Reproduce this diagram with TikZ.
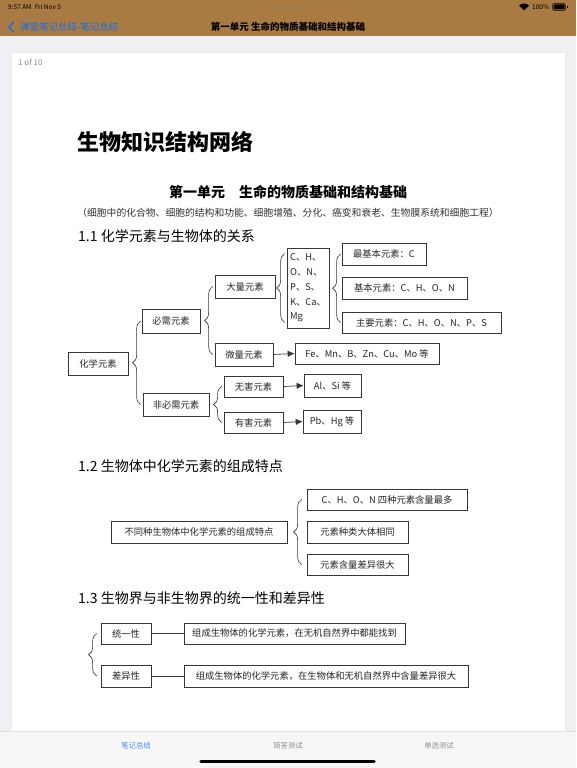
\documentclass[tikz,border=0pt]{standalone}
\usepackage{fontspec}
\setmainfont{Noto Sans CJK SC}
\usetikzlibrary{arrows.meta,decorations.pathreplacing}

\definecolor{zongse}{RGB}{169,122,66}
\definecolor{pingguolan}{RGB}{20,110,235}
\definecolor{beijinghui}{RGB}{239,239,244}
\definecolor{biaoqianhui}{RGB}{247,247,247}
\definecolor{zihui}{RGB}{142,142,147}
\definecolor{xianhei}{RGB}{55,55,55}

\newcommand{\zihao}[1]{\fontsize{#1}{#1}\selectfont}

\begin{document}
\begin{tikzpicture}[x=1pt,y=-1pt,
  kuang/.style={draw=xianhei, line width=0.7pt, inner sep=0pt, font=\zihao{9.3}, text=black!85},
  jiantou/.style={draw=xianhei, line width=0.7pt, -{Latex[length=7pt,width=6.5pt]}},
  lianxian/.style={draw=xianhei, line width=0.7pt},
  kuohao/.style={draw=xianhei, line width=0.6pt, decorate, decoration={brace, amplitude=8pt}},
  biaoti/.style={anchor=west, font=\zihao{14}, inner sep=0pt},
  tabzi/.style={font=\zihao{7.3}, inner sep=0pt}]

\useasboundingbox (0,0) rectangle (576,768);

% screen
\fill[beijinghui] (0,0) rectangle (576,768);
\fill[zongse] (0,0) rectangle (576,36);

\node[anchor=west, inner sep=0pt, font=\zihao{6.5}] (shijian) at (8,7) {9:57 AM\enspace Fri Nov 5};
\foreach \dx in {-5,0,5}
  \fill[black!45] (288+\dx,7) circle (1.1);
\node[anchor=west, inner sep=0pt, font=\zihao{6.5}] (dianliang) at (532,7) {100\%};
\fill[black] (524,10.5) -- ++(-135:7) arc[start angle=-135, end angle=-45, radius=7] -- cycle;
\draw[black, line width=0.5pt, rounded corners=1.5pt] (552.5,3.5) rectangle (565.5,10.5);
\fill[black, rounded corners=1pt] (553.5,4.5) rectangle (564.5,9.5);
\fill[black] (566.5,5.8) rectangle (567.6,8.2);

\draw[pingguolan, line width=1.4pt, line cap=round, line join=round] (13.5,22) -- (9,27) -- (13.5,32);
\node[anchor=west, inner sep=0pt, font=\zihao{9.5}, text=pingguolan] (fanhui) at (20,27) {课堂笔记总结-笔记总结};
\node[inner sep=0pt, font=\bfseries\zihao{9.5}] (daohang) at (288,27) {第一单元 生命的物质基础和结构基础};

% page
\fill[black!7] (10.5,51.5) rectangle (566.5,731);
\fill[white] (12,53) rectangle (565,731);
\node[anchor=west, inner sep=0pt, font=\zihao{8}, text=zihui] (yema) at (18,62) {1 of 10};

\node[anchor=west, inner sep=0pt, font=\bfseries\zihao{22}] (zongbiaoti) at (77,142) {生物知识结构网络};
\node[inner sep=0pt, font=\bfseries\zihao{14}] (danyuan) at (288,192) {第一单元\quad 生命的物质基础和结构基础};
\node[inner sep=0pt, font=\zihao{9.8}, text=black!80] (fubiaoti) at (288,213) {（细胞中的化合物、细胞的结构和功能、细胞增殖、分化、癌变和衰老、生物膜系统和细胞工程）};

% 1.1
\node[biaoti] (t11) at (78,236) {1.1 化学元素与生物体的关系};

\node[kuang, minimum width=60, minimum height=23] (huaxue) at (98,363.5) {化学元素};
\node[kuang, minimum width=58, minimum height=24] (bixu) at (171,321) {必需元素};
\node[kuang, minimum width=66, minimum height=23] (feibixu) at (176,404.5) {非必需元素};
\node[kuang, minimum width=60, minimum height=23] (daliang) at (245,286.5) {大量元素};
\node[kuang, minimum width=58, minimum height=23] (weiliang) at (244,354.5) {微量元素};
\node[kuang, minimum width=59, minimum height=21] (wuhai) at (253.5,386.5) {无害元素};
\node[kuang, minimum width=59, minimum height=21] (youhai) at (253.5,422.5) {有害元素};
\node[kuang, minimum width=42, minimum height=80, align=left, font=\fontsize{9.3}{14.8}\selectfont] (dayuansu) at (308,288) {C、H、\\O、N、\\P、S、\\K、Ca、\\Mg};
\node[kuang, minimum width=84, minimum height=22] (zuijiben) at (384,254) {最基本元素：C};
\node[kuang, minimum width=125, minimum height=22] (jiben) at (404.5,288) {基本元素：C、H、O、N};
\node[kuang, minimum width=159, minimum height=21] (zhuyao) at (421.5,322.5) {主要元素：C、H、O、N、P、S};
\node[kuang, minimum width=144, minimum height=21] (weiyuansu) at (367,353.5) {Fe、Mn、B、Zn、Cu、Mo 等};
\node[kuang, minimum width=57, minimum height=23] (alsi) at (332.5,385.5) {Al、Si 等};
\node[kuang, minimum width=58, minimum height=23] (pbhg) at (332,421.5) {Pb、Hg 等};

\draw[kuohao] ([xshift=-2pt]feibixu.west) -- ([xshift=-2pt]feibixu.west |- bixu.west);
\draw[kuohao] ([xshift=-2pt]weiliang.west) -- ([xshift=-2pt]weiliang.west |- daliang.west);
\draw[kuohao] ([xshift=-2pt]youhai.west) -- ([xshift=-2pt]wuhai.west);
\draw[kuohao] ([shift={(-2,-6)}]dayuansu.south west) -- ([shift={(-2,6)}]dayuansu.north west);
\draw[kuohao] ([xshift=-1pt]zhuyao.west) -- ([xshift=-1pt]zuijiben.west);

\draw[jiantou] (weiliang.east) -- (weiyuansu.west);
\draw[jiantou] (wuhai.east) -- (alsi.west);
\draw[jiantou] (youhai.east) -- (pbhg.west);

% 1.2
\node[biaoti] (t12) at (78,466) {1.2 生物体中化学元素的组成特点};

\node[kuang, minimum width=176, minimum height=22] (butong) at (199,532) {不同种生物体中化学元素的组成特点};
\node[kuang, minimum width=160, minimum height=21] (tedian1) at (387,499.5) {C、H、O、N 四种元素含量最多};
\node[kuang, minimum width=101, minimum height=22] (tedian2) at (357.5,532) {元素种类大体相同};
\node[kuang, minimum width=101, minimum height=21] (tedian3) at (357.5,564.5) {元素含量差异很大};

\draw[kuohao] ([xshift=-5pt]tedian3.west) -- ([xshift=-5pt]tedian1.west);

% 1.3
\node[biaoti] (t13) at (78,598) {1.3 生物界与非生物界的统一性和差异性};

\node[kuang, minimum width=50, minimum height=21] (tongyi) at (126,633.5) {统一性};
\node[kuang, minimum width=50, minimum height=22] (chayi) at (126,676) {差异性};
\node[kuang, minimum width=221, minimum height=21] (tongyishuo) at (294.5,633.5) {组成生物体的化学元素，在无机自然界中都能找到};
\node[kuang, minimum width=284, minimum height=22] (chayishuo) at (326,676) {组成生物体的化学元素，在生物体和无机自然界中含量差异很大};

\draw[kuohao] ([xshift=-4pt]chayi.west) -- ([xshift=-4pt]tongyi.west);
\draw[lianxian] (tongyi.east) -- (tongyishuo.west);
\draw[lianxian] (chayi.east) -- (chayishuo.west);

% tab bar
\fill[biaoqianhui] (0,731) rectangle (576,768);
\draw[black!12, line width=0.6pt] (0,731) -- (576,731);
\node[tabzi, text=pingguolan!80] (biji) at (136,746) {笔记总结};
\node[tabzi, text=zihui] (jianda) at (288,746) {简答测试};
\node[tabzi, text=zihui] (danxuan) at (439,746) {单选测试};
\draw[black, line width=3.5pt, line cap=round] (201,761.5) -- (374,761.5);

\end{tikzpicture}
\end{document}
